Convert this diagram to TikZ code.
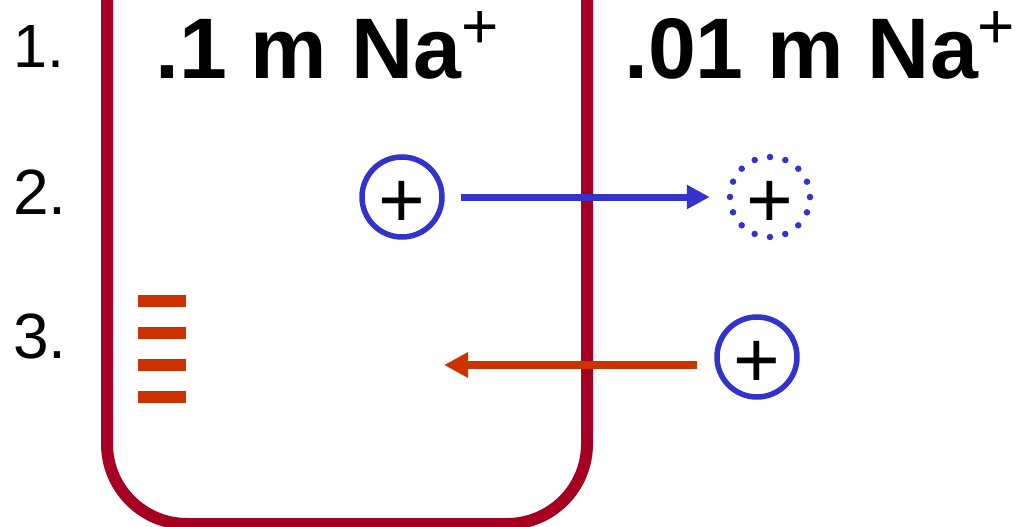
\documentclass[tikz,border=0pt]{standalone}
\usepackage{fontspec}
\setmainfont{Liberation Sans}
\usepackage{tikz}
\usetikzlibrary{arrows.meta}
\definecolor{wall}{HTML}{A50021}
\definecolor{ionblue}{HTML}{3333CC}
\definecolor{flowred}{HTML}{CC3300}
\newcommand{\ionplus}{\raisebox{30pt}{\fontsize{64}{64}\selectfont\mdseries +}}

\begin{document}
\begin{tikzpicture}[x=1pt, y=-1pt,
    ion/.style={shape=circle, draw=ionblue, line width=5.5pt, minimum size=80pt, inner sep=0pt,
      text height=60pt, text depth=0pt, font=\fontsize{80}{80}\selectfont},
    ghost/.style={ion, dash pattern=on 0pt off 15.7pt, line cap=round, line width=6.5pt},
    num/.style={anchor=base west, inner sep=0pt},
    conc/.style={anchor=base west, inner sep=0pt, font=\fontsize{86}{86}\selectfont\bfseries},
    charge/.style={fill=flowred, minimum width=48pt, minimum height=12pt, inner sep=0pt}]
  \useasboundingbox (0,0) rectangle (1026,527);
  \clip (0,0) rectangle (1026,527);
  % membrane
  \draw[wall, line width=12pt, rounded corners=80pt] (107,-20) -- (107,524) -- (587,524) -- (587,-20);
  % rows
  \node[num, font=\fontsize{61}{61}\selectfont] (n1) at (13,68) {1.};
  \node[num, font=\fontsize{64}{64}\selectfont] (n2) at (13,214) {2.};
  \node[num, font=\fontsize{64}{64}\selectfont] (n3) at (13,358) {3.};
  \node[conc] (high) at (155,79) {.1 m Na\ionplus};
  \node[conc] (low) at (624,79) {.01 m Na\ionplus};
  % ions
  \node[ion] (in2) at (402,197) {+};
  \node[ghost] (out2) at (770,197) {+};
  \node[ion] (in3) at (757,357) {+};
  \coordinate (tip3) at (444,365);
  \foreach \y in {301,333,365,397}
    \node[charge] (c\y) at (162,\y) {};
  \draw[ionblue, line width=7pt, -{Triangle[length=23pt,width=23pt]}, shorten <=16pt, shorten >=17pt] (in2) -- (out2);
  \draw[flowred, line width=8pt, -{Triangle[length=24pt,width=24pt]}, shorten <=17pt] (in3.west |- tip3) -- (tip3);
\end{tikzpicture}
\end{document}
